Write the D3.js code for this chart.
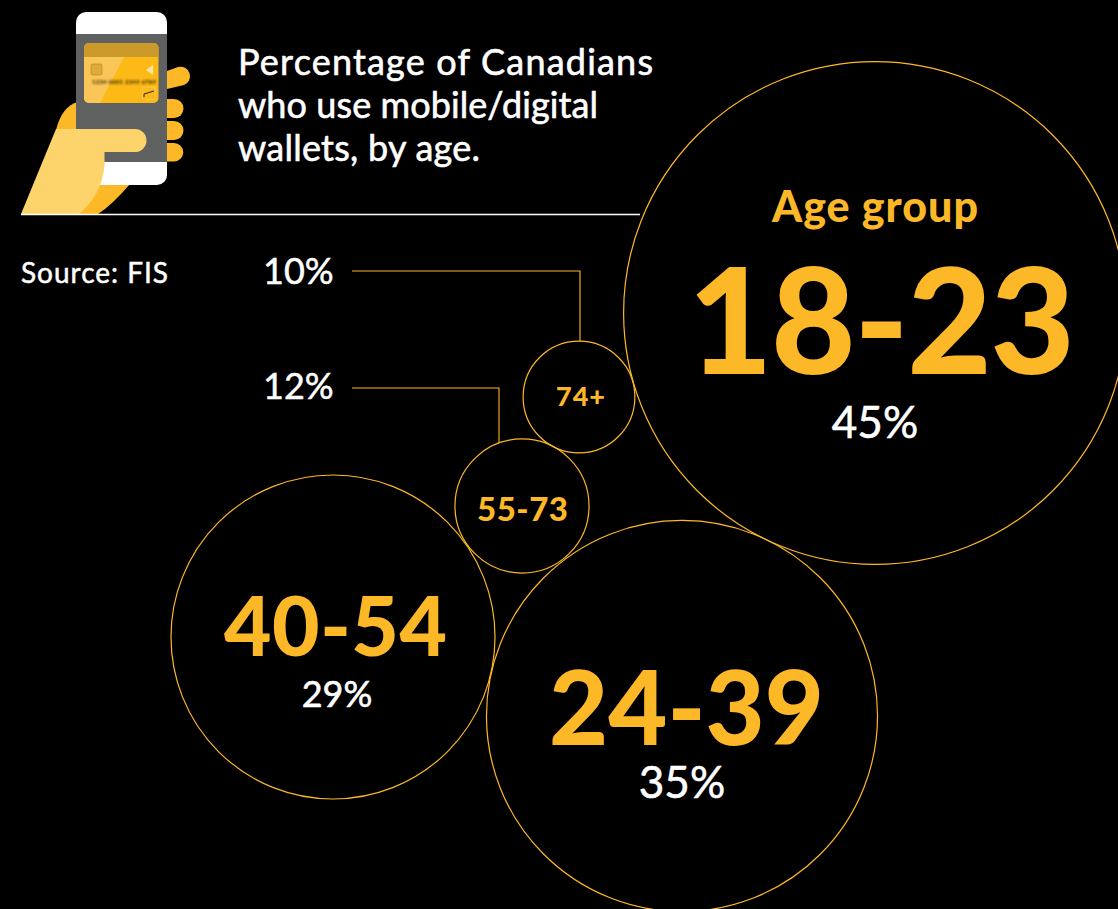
<!DOCTYPE html>
<html>
<head>
<meta charset="utf-8">
<script src="https://cdn.jsdelivr.net/npm/d3@7/dist/d3.min.js"></script>
<style>
html,body{margin:0;padding:0;background:#000;overflow:hidden}
text{font-family:Lato,"Open Sans",sans-serif}
</style>
</head>
<body>
<svg id="chart" width="1118" height="909"></svg>
<script>
// Share of Canadians using mobile/digital wallets, by age group
const ageGroups = ["18-23", "24-39", "40-54", "55-73", "74+"];
const shares = [45, 35, 29, 12, 10];
const titleLines = ["Percentage of Canadians", "who use mobile/digital", "wallets, by age."];
const sourceNote = "Source: FIS";
const legendTitle = "Age group";

const AMBER = "#fdb827";
const svg = d3.select("#chart");
svg.append("rect").attr("width", 1118).attr("height", 909).attr("fill", "#000");

// Circle radius grows linearly with the share
const radius = d3.scaleLinear().domain([0, 45]).range([0, 251.4]);

// Layout of each bubble: centre plus label span and sizing
const layout = {
  "18-23": {cx: 875, cy: 313, labelL: 688, labelR: 1075, labelY: 374, labelSize: 146, pctX: 875, pctY: 438, pctSize: 44},
  "24-39": {cx: 682, cy: 716, labelL: 549, labelR: 824, labelY: 745, labelSize: 102, pctX: 682, pctY: 798, pctSize: 44},
  "40-54": {cx: 333, cy: 637, labelL: 224, labelR: 447, labelY: 656, labelSize: 82, pctX: 337, pctY: 707, pctSize: 36},
  "55-73": {cx: 522, cy: 506, labelL: 477, labelR: 568, labelY: 521, labelSize: 33, pctSize: 0},
  "74+":   {cx: 579, cy: 397, labelL: 556, labelR: 605, labelY: 406, labelSize: 27, pctSize: 0}
};

// Phone-in-hand illustration
const icon = svg.append("g").attr("class", "icon");
icon.append("path").attr("fill", AMBER)
  .attr("d", "M56 130 Q62 106 78 102 L120 150 L130 184 Q112 205 98 214 L60 214 Z");
icon.append("rect").attr("x", 76).attr("y", 12).attr("width", 91).attr("height", 173).attr("rx", 10).attr("fill", "#fff");
icon.append("rect").attr("x", 76).attr("y", 34).attr("width", 91).attr("height", 128).attr("fill", "#5f6160");
icon.append("path").attr("fill", AMBER)
  .attr("d", "M167 71 L178 67 A9.5 9.5 0 0 1 184 85 L167 89 Z");
[[99, 118], [121, 140], [143, 161.5]].forEach(([a, b]) => {
  const r = (b - a) / 2;
  icon.append("path").attr("fill", AMBER)
    .attr("d", `M167 ${a} L174 ${a} A${r} ${r} 0 0 1 174 ${b} L167 ${b} Z`);
});
// Card on the phone screen
const defs = svg.append("defs");
defs.append("filter").attr("id", "soft").append("feGaussianBlur").attr("stdDeviation", 0.5);
defs.append("filter").attr("id", "softer").append("feGaussianBlur").attr("stdDeviation", 0.9);
const card = icon.append("g").attr("filter", "url(#soft)");
card.append("rect").attr("x", 84).attr("y", 43).attr("width", 74.5).attr("height", 60).attr("rx", 5).attr("fill", "#fdb918");
card.append("path").attr("fill", "#cb9a2b").attr("d", "M84 57 V48 A5 5 0 0 1 89 43 H153.5 A5 5 0 0 1 158.5 48 V57 Z");
card.append("path").attr("fill", "#fbc658").attr("d", "M84 57 H124 L100 103 H89 A5 5 0 0 1 84 98 Z");
card.append("rect").attr("x", 91).attr("y", 64).attr("width", 11).attr("height", 11).attr("rx", 1.5).attr("fill", "#dfa93a").attr("stroke", "#b88a2a").attr("stroke-width", 0.7);
card.append("path").attr("fill", "#fde5a5").attr("d", "M146 70 L153 65 V75 Z");
icon.append("text").attr("x", 92).attr("y", 83.5).attr("font-size", 6).attr("font-weight", 900).attr("fill", "#3f2f08")
  .attr("filter", "url(#softer)")
  .attr("textLength", 64).text("1234 0001 2345 6789");
card.append("rect").attr("x", 142.5).attr("y", 87).attr("width", 12.5).attr("height", 12.5).attr("fill", "none").attr("stroke", "#ffd57a").attr("stroke-width", 0.5);
card.append("path").attr("fill", "none").attr("stroke", "#222").attr("stroke-width", 1).attr("d", "M144 97 V94 L154 91");
// Thumb and palm
icon.append("path").attr("fill", "#fdd36b")
  .attr("d", "M21 214 L56 129 H135 A11.5 11.5 0 0 1 135 152 H104.5 V165 Q102 195 79 214 Z");

// Rule under the heading
svg.append("line").attr("x1", 21).attr("x2", 640).attr("y1", 214.5).attr("y2", 214.5)
  .attr("stroke", "#fff").attr("stroke-width", 1.4);

// Heading
svg.append("g").selectAll("text").data(titleLines).join("text")
  .attr("x", 238).attr("y", (d, i) => 75 + i * 43)
  .attr("fill", "#fff").attr("stroke", "#fff").attr("stroke-width", 0.6).attr("font-size", 36)
  .attr("textLength", (d, i) => [415, 360, 242][i])
  .text(d => d);

svg.append("text").attr("x", 21).attr("y", 283).attr("fill", "#fff").attr("stroke", "#fff").attr("stroke-width", 0.5).attr("font-size", 28)
  .attr("textLength", 147).text(sourceNote);

// Bubbles
const data = ageGroups.map((g, i) => ({group: g, share: shares[i], ...layout[g]}));
svg.append("g").selectAll("circle").data(data).join("circle")
  .attr("cx", d => d.cx).attr("cy", d => d.cy).attr("r", d => radius(d.share))
  .attr("fill", "none").attr("stroke", AMBER).attr("stroke-width", 1.2);

// Age labels: letter spacing is set from the measured width so each label fills its span
svg.append("g").selectAll("text").data(data).join("text")
  .attr("x", d => d.labelL).attr("y", d => d.labelY)
  .attr("fill", AMBER).attr("font-weight", 900)
  .attr("font-size", d => d.labelSize)
  .text(d => d.group)
  .each(function(d) {
    const natural = this.getComputedTextLength();
    const gap = (d.labelR - d.labelL - natural) / (d.group.length - 1);
    d3.select(this).style("letter-spacing", gap + "px");
  });

svg.append("g").selectAll("text").data(data.filter(d => d.pctSize)).join("text")
  .attr("x", d => d.pctX).attr("y", d => d.pctY)
  .attr("text-anchor", "middle").attr("fill", "#fff").attr("stroke", "#fff").attr("stroke-width", 0.6)
  .attr("font-size", d => d.pctSize)
  .text(d => d.share + "%");

svg.append("text").attr("x", 875).attr("y", 222).attr("text-anchor", "middle")
  .attr("fill", AMBER).attr("font-weight", 900).attr("font-size", 43).attr("textLength", 206).text(legendTitle);

// Leader labels for the two smallest bubbles
const leaders = [
  {group: "74+", y: 271, labelY: 284, x2: 580},
  {group: "55-73", y: 388, labelY: 399, x2: 499}
];
const shareOf = g => shares[ageGroups.indexOf(g)];
const bubble = g => data.find(d => d.group === g);
const line = d3.line();
svg.append("g").selectAll("path").data(leaders).join("path")
  .attr("fill", "none").attr("stroke", AMBER).attr("stroke-width", 1.1)
  .attr("d", d => {
    const b = bubble(d.group), r = radius(b.share);
    const dx = d.x2 - b.cx;
    return line([[352, d.y], [d.x2, d.y], [d.x2, b.cy - Math.sqrt(r * r - dx * dx)]]);
  });
svg.append("g").selectAll("text").data(leaders).join("text")
  .attr("x", 263).attr("y", d => d.labelY).attr("fill", "#fff").attr("stroke", "#fff").attr("stroke-width", 0.5).attr("font-size", 36)
  .text(d => shareOf(d.group) + "%");
</script>
</body>
</html>
